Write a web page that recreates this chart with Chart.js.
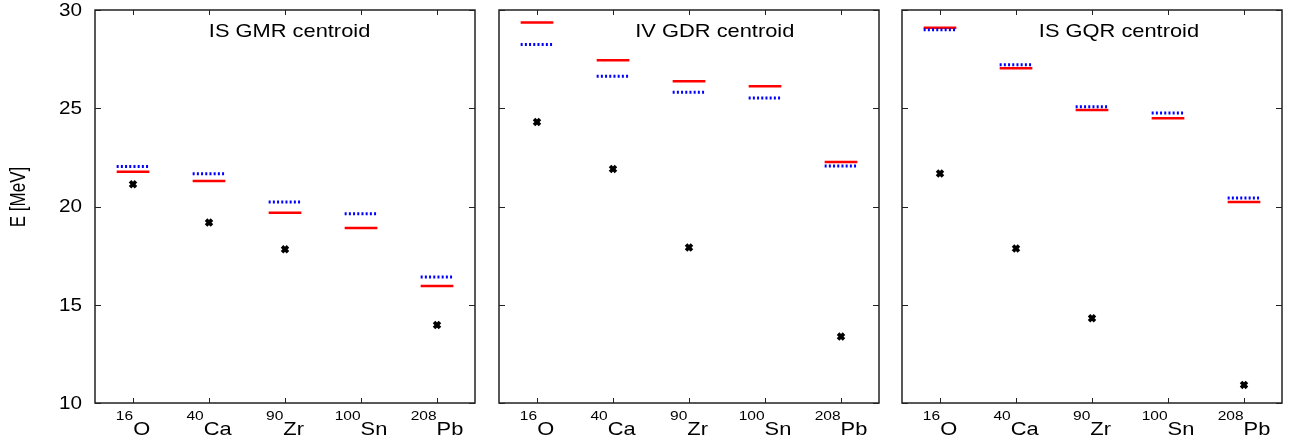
<!DOCTYPE html>
<html>
<head>
<meta charset="utf-8">
<script src="https://cdn.jsdelivr.net/npm/chart.js@4"></script>
<style>
  html, body { margin: 0; padding: 0; background: #fff; }
  #wrap { position: relative; width: 1302px; height: 447px; }
  canvas { position: absolute; top: 0; }
</style>
</head>
<body>
<div id="wrap">
  <canvas id="c1" width="487" height="447" style="left:0px"></canvas>
  <canvas id="c2" width="403" height="447" style="left:487px"></canvas>
  <canvas id="c3" width="412" height="447" style="left:890px"></canvas>
</div>
<script>
// nuclei on the x axis
const isoMass = ["16", "40", "90", "100", "208"];
const isoName = ["O", "Ca", "Zr", "Sn", "Pb"];
const yTicks = [10, 15, 20, 25, 30];
const panelTitles = ["IS GMR centroid", "IV GDR centroid", "IS GQR centroid"];

// IS GMR
const gmrRed = [21.77, 21.30, 19.68, 18.91, 15.96];
const gmrBlue = [22.03, 21.67, 20.23, 19.63, 16.41];
const gmrBlack = [21.13, 19.18, 17.82, null, 13.97];
// IV GDR
const gdrRed = [29.37, 27.44, 26.37, 26.12, 22.27];
const gdrBlue = [28.25, 26.63, 25.81, 25.52, 22.06];
const gdrBlack = [24.30, 21.91, 17.91, null, 13.38];
// IS GQR
const gqrRed = [29.10, 27.03, 24.91, 24.49, 20.23];
const gqrBlue = [29.00, 27.22, 25.08, 24.76, 20.43];
const gqrBlack = [21.68, 17.86, 14.31, null, 10.92];

const FONT = "'Liberation Sans', Arial, sans-serif";
const STRETCH = 1.15; // text in the original is a bit wide
const HALF = 0.215;   // half width of a level bar, in category units

function levelSegments(values) {
  const pts = [];
  values.forEach(function (v, i) {
    pts.push({ x: i + 1 - HALF, y: v });
    pts.push({ x: i + 1 + HALF, y: v });
    pts.push({ x: i + 1, y: null });
  });
  return pts;
}

function markerPoints(values) {
  return values.map(function (v, i) {
    return { x: i + 1, y: v };
  });
}

function stretchedText(ctx, text, x, y, size, align) {
  ctx.save();
  ctx.font = size + "px " + FONT;
  const w = ctx.measureText(text).width * STRETCH;
  let x0 = x;
  if (align === "center") x0 = x - w / 2;
  if (align === "right") x0 = x - w;
  ctx.translate(x0, y);
  ctx.scale(STRETCH, 1);
  ctx.textAlign = "left";
  ctx.fillText(text, 0, 0);
  ctx.restore();
  return w;
}

const framePlugin = {
  id: "frame",
  afterDraw(chart, args, opts) {
    const ctx = chart.ctx;
    const a = chart.chartArea;
    const xs = chart.scales.x;
    const ys = chart.scales.y;
    ctx.save();
    ctx.strokeStyle = "#222";
    ctx.lineWidth = 1.5;
    ctx.strokeRect(a.left, a.top, a.right - a.left, a.bottom - a.top);

    ctx.lineWidth = 1;
    ctx.beginPath();
    yTicks.forEach(function (v) {
      const y = Math.round(ys.getPixelForValue(v)) + 0.5;
      ctx.moveTo(a.left, y);
      ctx.lineTo(a.left + 6, y);
      ctx.moveTo(a.right, y);
      ctx.lineTo(a.right - 6, y);
    });
    isoName.forEach(function (n, i) {
      const x = Math.round(xs.getPixelForValue(i + 1)) + 0.5;
      ctx.moveTo(x, a.top);
      ctx.lineTo(x, a.top + 5);
      ctx.moveTo(x, a.bottom);
      ctx.lineTo(x, a.bottom - 5);
    });
    ctx.stroke();

    ctx.fillStyle = "#000";
    ctx.textBaseline = "alphabetic";

    // x labels with superscript mass numbers
    isoName.forEach(function (n, i) {
      const x = xs.getPixelForValue(i + 1);
      ctx.font = "13.5px " + FONT;
      const wm = ctx.measureText(isoMass[i]).width * STRETCH;
      ctx.font = "19px " + FONT;
      const wn = ctx.measureText(n).width * STRETCH;
      const x0 = x - (wm + wn) / 2;
      stretchedText(ctx, isoMass[i], x0, a.bottom + 17, 13.5, "left");
      stretchedText(ctx, n, x0 + wm, a.bottom + 32, 19, "left");
    });

    // panel title
    stretchedText(ctx, opts.title, a.left + (a.right - a.left) * opts.titlePos, a.top + 26.5, 19, "center");

    if (opts.yLabels) {
      ctx.textBaseline = "middle";
      yTicks.forEach(function (v) {
        const y = ys.getPixelForValue(v);
        stretchedText(ctx, String(v), a.left - 13, y + 1, 18, "right");
      });
      ctx.save();
      ctx.translate(19, 197);
      ctx.rotate(-Math.PI / 2);
      ctx.scale(1, 1.3);
      ctx.font = "17px " + FONT;
      ctx.textAlign = "center";
      ctx.textBaseline = "middle";
      ctx.fillText("E [MeV]", 0, 0);
      ctx.restore();
    }
    ctx.restore();
  }
};

function makePanel(id, red, blue, black, title, titlePos, pad, yLabels) {
  const ctx = document.getElementById(id).getContext("2d");
  return new Chart(ctx, {
    type: "scatter",
    data: {
      datasets: [
        {
          label: "blue",
          data: levelSegments(blue),
          showLine: true,
          spanGaps: false,
          borderColor: "#0000ff",
          borderWidth: 3,
          borderDash: [2, 2.2],
          pointRadius: 0,
        },
        {
          label: "red",
          data: levelSegments(red),
          showLine: true,
          spanGaps: false,
          borderColor: "#ff0000",
          borderWidth: 2.5,
          pointRadius: 0,
        },
        {
          label: "black",
          data: markerPoints(black),
          showLine: false,
          pointStyle: "crossRot",
          pointRadius: 4.2,
          borderWidth: 3.6,
          borderColor: "#000",
          backgroundColor: "#000",
        },
      ],
    },
    options: {
      responsive: false,
      animation: false,
      devicePixelRatio: 1,
      layout: { padding: pad },
      plugins: {
        legend: { display: false },
        tooltip: { enabled: false },
        frame: { title: title, titlePos: titlePos, yLabels: yLabels },
      },
      scales: {
        x: { type: "linear", min: 0.5, max: 5.5, display: false },
        y: { type: "linear", min: 10, max: 30, display: false },
      },
    },
    plugins: [framePlugin],
  });
}

makePanel("c1", gmrRed, gmrBlue, gmrBlack, panelTitles[0], 0.512,
  { left: 95, right: 12, top: 10, bottom: 44 }, true);
makePanel("c2", gdrRed, gdrBlue, gdrBlack, panelTitles[1], 0.568,
  { left: 12, right: 11, top: 10, bottom: 44 }, false);
makePanel("c3", gqrRed, gqrBlue, gqrBlack, panelTitles[2], 0.571,
  { left: 12, right: 20, top: 10, bottom: 44 }, false);
</script>
</body>
</html>
